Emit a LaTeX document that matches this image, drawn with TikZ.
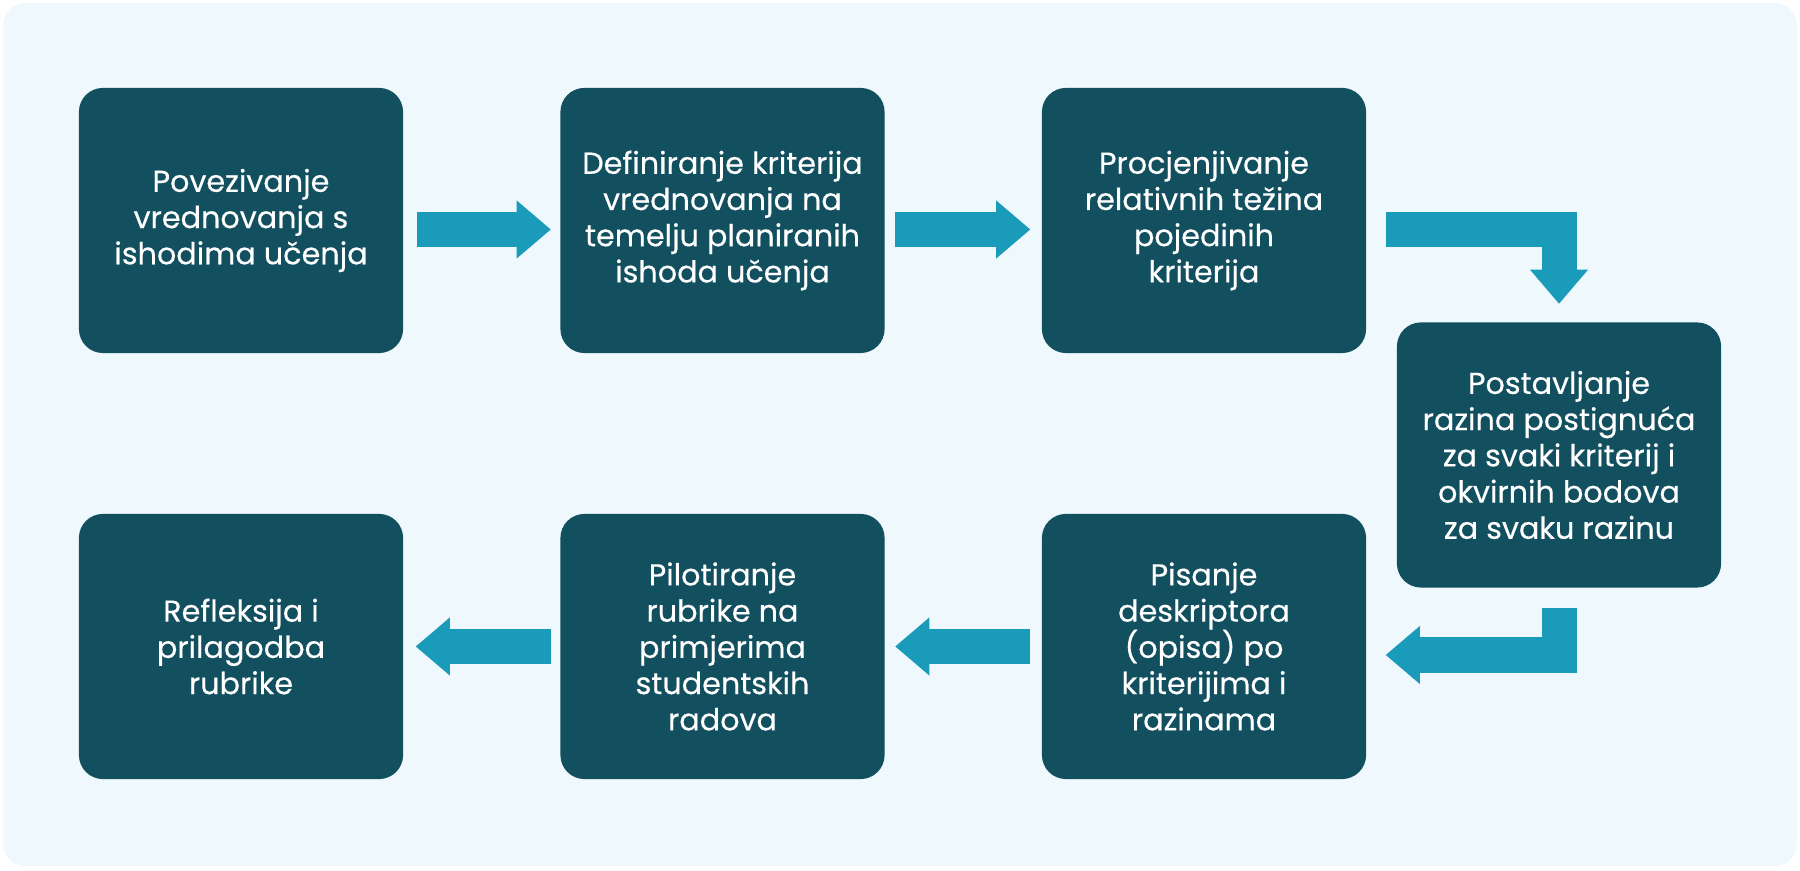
\documentclass[tikz,border=0pt]{standalone}
\usepackage{fontspec}
\setmainfont{Poppins}
\newfontfamily\stepfont[FakeBold=0.35]{Poppins}
\usetikzlibrary{arrows.meta,calc}
\definecolor{panelBlue}{HTML}{EEF8FD}
\definecolor{stepTeal}{HTML}{12505F}
\definecolor{flowCyan}{HTML}{1A9BB9}
\tikzset{
    stepbox/.style={rectangle,rounded corners=2.4mm,fill=stepTeal,text=white,
        minimum width=32.4mm,minimum height=26.5mm,inner sep=0pt,align=center,
        font=\stepfont\fontsize{8.6}{10.3}\selectfont},
    flow/.style={draw=flowCyan,line width=3.5mm,miter limit=10,
        -{Triangle[length=3.4mm,width=5.8mm,line width=0pt]}}
}

\begin{document}
\begin{tikzpicture}[x=0.01cm,y=-0.01cm]
  \useasboundingbox (0,0) rectangle (1800,871);
  \fill[panelBlue,rounded corners=2.2mm] (3,3) rectangle (1797,866);

  % top row
  \node[stepbox] (p1) at (241, 220.5)  {Povezivanje\\vrednovanja s\\ishodima učenja};
  \node[stepbox] (p2) at (722.5, 220.5) {Definiranje kriterija\\vrednovanja na\\temelju planiranih\\ishoda učenja};
  \node[stepbox] (p3) at (1204, 220.5) {Procjenjivanje\\relativnih težina\\pojedinih\\kriterija};
  \node[stepbox] (p4) at (1559, 455)   {Postavljanje\\razina postignuća\\za svaki kriterij i\\okvirnih bodova\\za svaku razinu};
  % bottom row
  \node[stepbox] (p5) at (1204, 646.5) {Pisanje\\deskriptora\\(opisa) po\\kriterijima i\\razinama};
  \node[stepbox] (p6) at (722.5, 646.5) {Pilotiranje\\rubrike na\\primjerima\\studentskih\\radova};
  \node[stepbox] (p7) at (241, 646.5)  {Refleksija i\\prilagodba\\rubrike};

  \draw[flow] ($(p1.east)+(13,9)$) -- ($(p2.west)+(-9,9)$);
  \draw[flow] ($(p2.east)+(10,9)$) -- ($(p3.west)+(-11,9)$);
  \draw[flow] ($(p3.east)+(19,9)$) -| ($(p4.north)+(0,-18)$);
  \draw[flow] ($(p4.south)+(0,20)$) |- ($(p5.east)+(19,8.5)$);
  \draw[flow] ($(p5.west)+(-11,0)$) -- ($(p6.east)+(10,0)$);
  \draw[flow] ($(p6.west)+(-9,0)$) -- ($(p7.east)+(12,0)$);
\end{tikzpicture}
\end{document}
